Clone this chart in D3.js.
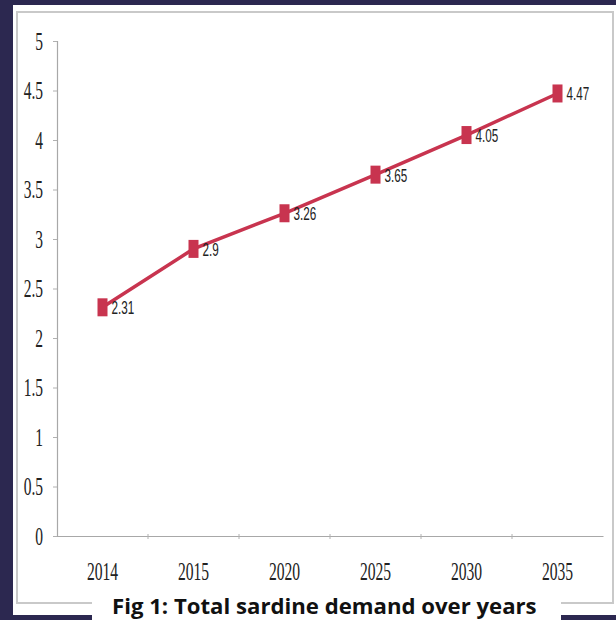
<!DOCTYPE html>
<html><head><meta charset="utf-8">
<script src="https://cdn.jsdelivr.net/npm/d3@7"></script>
<style>html,body{margin:0;padding:0;background:#2c2850;}svg{display:block;}</style>
</head><body>
<script>
const years = ["2014","2015","2020","2025","2030","2035"];
const demand = [2.31, 2.9, 3.26, 3.65, 4.05, 4.47];
const yTicks = [0, 0.5, 1, 1.5, 2, 2.5, 3, 3.5, 4, 4.5, 5];
const caption = "Fig 1: Total sardine demand over years";

const W = 616, H = 620;
const svg = d3.select("body").append("svg").attr("width", W).attr("height", H);
svg.append("rect").attr("width", W).attr("height", H).attr("fill", "#2c2850");
svg.append("rect").attr("x", 13).attr("y", 5).attr("width", 603).attr("height", 610).attr("fill", "#ffffff");
svg.append("rect").attr("x", 17).attr("y", 12).attr("width", 596).attr("height", 591)
  .attr("fill", "none").attr("stroke", "#c9c9c9").attr("stroke-width", 2);

const x = d3.scaleBand().domain(years).range([57, 603]);
const y = d3.scaleLinear().domain([0, 5]).range([536, 41]);

// y axis
const ya = svg.append("g").attr("transform", "translate(57,0)")
  .call(d3.axisLeft(y).tickValues(yTicks).tickSize(4).tickFormat(d3.format("")));
ya.select(".domain").attr("stroke", "#a8a8a8").attr("stroke-width", 1.2);
ya.selectAll(".tick line").attr("stroke", "#b0b0b0");
ya.selectAll(".tick text").remove();
ya.selectAll(".tick").append("text")
  .attr("transform", "translate(-14,0) scale(0.62,1)")
  .attr("text-anchor", "end").attr("dy", "0.33em")
  .attr("fill", "#222").attr("font-family", "Liberation Serif").attr("font-size", 25)
  .text(d => d3.format("")(d));

// x axis
const xa = svg.append("g").attr("transform", "translate(0,536)")
  .call(d3.axisBottom(x).tickSize(0));
xa.select(".domain").attr("stroke", "#a8a8a8").attr("stroke-width", 1.2);
xa.selectAll(".tick text").remove();
xa.selectAll(".tick").append("text")
  .attr("transform", "translate(0,44) scale(0.6,1)")
  .attr("text-anchor", "middle")
  .attr("fill", "#222").attr("font-family", "Liberation Serif").attr("font-size", 26)
  .text(d => d);
// boundary ticks
const bounds = years.map(d => x(d)).concat([x.range()[1]]);
svg.append("g").selectAll("line").data(bounds.slice(1, -1)).join("line")
  .attr("x1", d => d).attr("x2", d => d).attr("y1", 534).attr("y2", 539)
  .attr("stroke", "#b0b0b0");

const cx = d => x(d) + x.bandwidth() / 2;
const data = years.map((yr, i) => ({yr, v: demand[i]}));

svg.append("path").datum(data)
  .attr("fill", "none").attr("stroke", "#c8344f").attr("stroke-width", 3.5)
  .attr("d", d3.line().x(d => cx(d.yr)).y(d => y(d.v)));

svg.append("g").selectAll("rect").data(data).join("rect")
  .attr("x", d => cx(d.yr) - 5).attr("y", d => y(d.v) - 9)
  .attr("width", 10).attr("height", 18).attr("fill", "#c8344f");

svg.append("g").selectAll("text").data(data).join("text")
  .attr("transform", d => `translate(${cx(d.yr) + 9},${y(d.v) + 7}) scale(0.65,1)`)
  .attr("font-family", "Liberation Sans").attr("font-size", 18).attr("fill", "#222")
  .text(d => d.v);

// caption
svg.append("rect").attr("x", 92).attr("y", 582).attr("width", 469).attr("height", 38).attr("fill", "#ffffff");
const cap = svg.append("text").attr("x", 112).attr("y", 614)
  .attr("font-family", "Open Sans").attr("font-weight", "bold").attr("font-size", 24)
  .attr("fill", "#111").text(caption);
const len = cap.node().getComputedTextLength();
cap.attr("font-size", 24 * 425 / len);
</script>
</body></html>
